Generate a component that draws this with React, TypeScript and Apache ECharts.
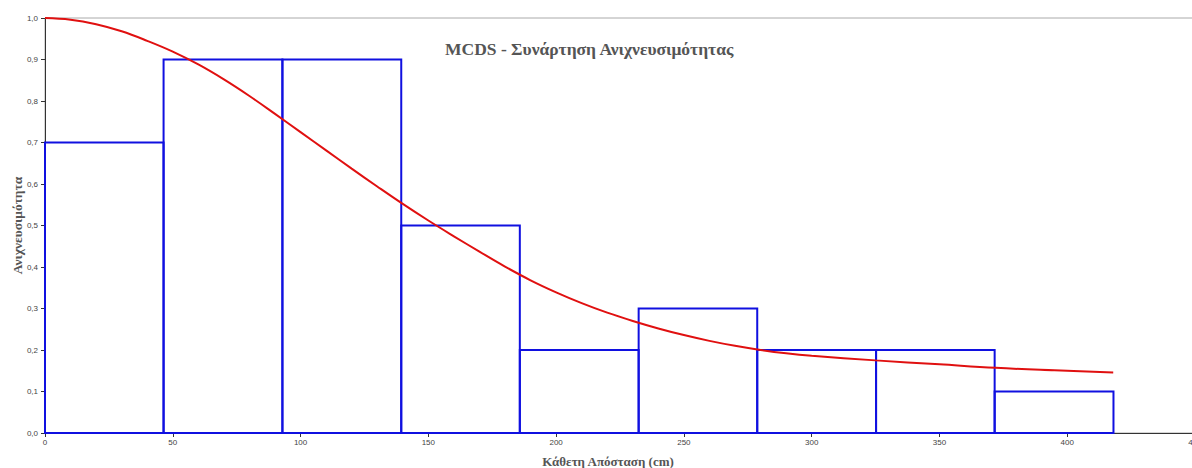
import React, { useEffect, useRef } from "react";
import * as echarts from "echarts";

// Histogram bins (edges in cm) and observed detection proportions
const binEdges = [0, 46.4, 92.9, 139.4, 185.8, 232.3, 278.7, 325.2, 371.6, 418.1];
const binHeights = [0.7, 0.9, 0.9, 0.5, 0.2, 0.3, 0.2, 0.2, 0.1];

// Fitted detection function
const curveX = [0, 10, 20, 30, 40, 50, 60, 70, 80, 90, 100, 110, 120, 130, 140, 150, 160, 170, 180, 190, 200, 210, 220, 230, 240, 250, 260, 270, 280, 290, 300, 325, 350, 372, 395, 418];
const curveY = [1.0, 0.996, 0.985, 0.968, 0.945, 0.919, 0.888, 0.852, 0.812, 0.769, 0.725, 0.681, 0.637, 0.594, 0.552, 0.512, 0.474, 0.437, 0.401, 0.368, 0.339, 0.313, 0.29, 0.27, 0.252, 0.236, 0.222, 0.21, 0.2, 0.192, 0.186, 0.175, 0.1655, 0.157, 0.151, 0.146];

const xTicks = [0, 50, 100, 150, 200, 250, 300, 350, 400, 450];
const yTicks = [0, 0.1, 0.2, 0.3, 0.4, 0.5, 0.6, 0.7, 0.8, 0.9, 1.0];

const titleText = "MCDS - Συνάρτηση Ανιχνευσιμότητας";
const xName = "Κάθετη Απόσταση (cm)";
const yName = "Ανιχνευσιμότητα";

export default function App() {
  const ref = useRef<HTMLDivElement>(null);
  useEffect(() => {
    if (!ref.current) return;
    const chart = echarts.init(ref.current, undefined, { renderer: "svg" });
    const bins = binHeights.map((h, i) => [binEdges[i], binEdges[i + 1], h]);
    const curve = curveX.map((x, i) => [x, curveY[i]]);
    chart.setOption({
      animation: false,
      backgroundColor: "#ffffff",
      title: {
        text: titleText,
        left: 445,
        top: 40,
        padding: 0,
        textStyle: {
          fontFamily: "Liberation Serif",
          fontWeight: "bold",
          fontSize: 17.5,
          color: "#555555",
        },
      },
      grid: {
        left: 45,
        right: -3,
        top: 18,
        bottom: 35,
        show: true,
        borderColor: "#aaaaaa",
        borderWidth: 1,
        outerBoundsMode: "none",
        containLabel: false,
      },
      xAxis: {
        type: "value",
        min: xTicks[0],
        max: xTicks[xTicks.length - 1],
        interval: 50,
        name: xName,
        nameLocation: "middle",
        nameGap: 22,
        nameTextStyle: {
          fontFamily: "Liberation Serif",
          fontWeight: "bold",
          fontSize: 13,
          color: "#555555",
          padding: [0, 24, 0, 0],
        },
        axisLine: { show: true, lineStyle: { color: "#333333", width: 1 } },
        axisTick: { show: true, length: 4, lineStyle: { color: "#333333" } },
        axisLabel: {
          fontFamily: "Liberation Sans",
          fontSize: 8,
          color: "#444444",
          margin: 5,
          showMaxLabel: true,
          hideOverlap: false,
        },
        splitLine: { show: false },
      },
      yAxis: {
        type: "value",
        min: yTicks[0],
        max: yTicks[yTicks.length - 1],
        interval: 0.1,
        name: yName,
        nameLocation: "middle",
        nameGap: 21,
        nameMoveOverlap: false,
        nameTextStyle: {
          fontFamily: "Liberation Serif",
          fontWeight: "bold",
          fontSize: 13.5,
          color: "#555555",
        },
        axisLine: { show: true, lineStyle: { color: "#333333", width: 1 } },
        axisTick: { show: true, length: 4, lineStyle: { color: "#333333" } },
        axisLabel: {
          fontFamily: "Liberation Sans",
          fontSize: 8,
          color: "#444444",
          margin: 7,
          formatter: (v: number) => v.toFixed(1).replace(".", ","),
        },
        splitLine: { show: false },
      },
      series: [
        {
          type: "custom",
          z: 2,
          data: bins,
          encode: { x: [0, 1], y: 2 },
          renderItem: (params: any, api: any) => {
            const p0 = api.coord([api.value(0), api.value(2)]);
            const p1 = api.coord([api.value(1), 0]);
            return {
              type: "rect",
              shape: { x: p0[0], y: p0[1], width: p1[0] - p0[0], height: p1[1] - p0[1] },
              style: { fill: "none", stroke: "#1010e0", lineWidth: 2 },
            };
          },
        },
        {
          type: "line",
          z: 3,
          data: curve,
          smooth: 0.4,
          showSymbol: false,
          lineStyle: { color: "#e01010", width: 2 },
        },
      ],
    });
    return () => chart.dispose();
  }, []);
  return (
    <div
      ref={ref}
      style={{ position: "absolute", left: 0, top: 0, width: 1192, height: 468 }}
    />
  );
}
